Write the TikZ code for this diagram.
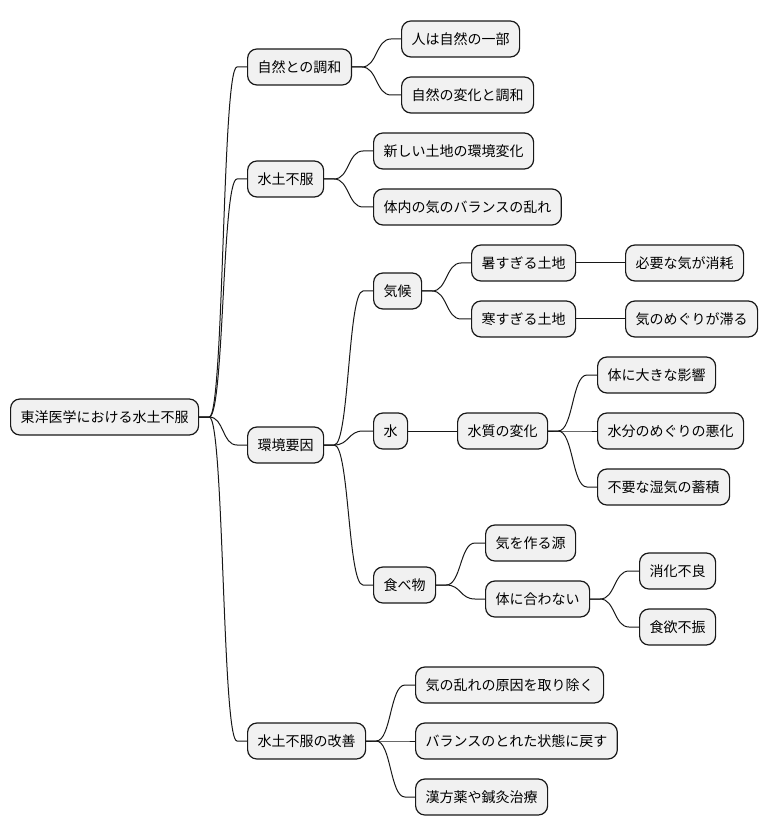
\documentclass[tikz,border=0pt]{standalone}
\usepackage{fontspec}
\setmainfont{Noto Sans CJK JP}
\usetikzlibrary{calc, positioning}
\definecolor{boxfill}{HTML}{F1F1F1}
\definecolor{boxline}{HTML}{181818}

\begin{document}
\begin{tikzpicture}[x=0.75pt, y=-0.75pt, line width=0.75pt, color=boxline,
	topic/.style={draw=boxline, line width=0.9pt, fill=boxfill, rounded corners=7pt,
		inner xsep=7.5pt, inner ysep=0pt, minimum height=27pt, text=black,
		font=\fontsize{10.5pt}{12pt}\selectfont},
	stem/.style={to path={-- ++(10,0) .. controls +(15,0) and +(-15,0) .. ($(\tikztotarget)+(-10,0)$) -- (\tikztotarget)}}]
	\useasboundingbox (0,0) rectangle (768,837);
	\node[topic] (A) at (10,417)[right] {東洋医学における水土不服};
	\node[topic] (B1) at (247,67)[right] {自然との調和};
	\node[topic] (B2) at (247,179)[right] {水土不服};
	\node[topic] (B3) at (247,445)[right] {環境要因};
	\node[topic] (B4) at (247,741)[right] {水土不服の改善};
	\node[topic] (B11) at (401,39)[right] {人は自然の一部};
	\node[topic] (B12) at (401,95)[right] {自然の変化と調和};
	\node[topic] (B21) at (373,151)[right] {新しい土地の環境変化};
	\node[topic] (B22) at (373,207)[right] {体内の気のバランスの乱れ};
	\node[topic] (B31) at (373,291)[right] {気候};
	\node[topic] (B32) at (373,431)[right] {水};
	\node[topic] (B33) at (373,585)[right] {食べ物};
	\node[topic] (B311) at (471,263)[right] {暑すぎる土地};
	\node[topic] (B312) at (471,319)[right] {寒すぎる土地};
	\node[topic] (B3111) at (625,263)[right] {必要な気が消耗};
	\node[topic] (B3121) at (625,319)[right] {気のめぐりが滞る};
	\node[topic] (B321) at (457,431)[right] {水質の変化};
	\node[topic] (B3211) at (597,375)[right] {体に大きな影響};
	\node[topic] (B3212) at (597,431)[right] {水分のめぐりの悪化};
	\node[topic] (B3213) at (597,487)[right] {不要な湿気の蓄積};
	\node[topic] (B331) at (485,543)[right] {気を作る源};
	\node[topic] (B332) at (485,599)[right] {体に合わない};
	\node[topic] (B3321) at (639,571)[right] {消化不良};
	\node[topic] (B3322) at (639,627)[right] {食欲不振};
	\node[topic] (B41) at (415,685)[right] {気の乱れの原因を取り除く};
	\node[topic] (B42) at (415,741)[right] {バランスのとれた状態に戻す};
	\node[topic] (B43) at (415,797)[right] {漢方薬や鍼灸治療};
	\draw (A.east) to[stem] (B1.west);
	\draw (A.east) to[stem] (B2.west);
	\draw (A.east) to[stem] (B3.west);
	\draw (A.east) to[stem] (B4.west);
	\draw (B1.east) to[stem] (B11.west);
	\draw (B1.east) to[stem] (B12.west);
	\draw (B2.east) to[stem] (B21.west);
	\draw (B2.east) to[stem] (B22.west);
	\draw (B3.east) to[stem] (B31.west);
	\draw (B3.east) to[stem] (B32.west);
	\draw (B3.east) to[stem] (B33.west);
	\draw (B31.east) to[stem] (B311.west);
	\draw (B31.east) to[stem] (B312.west);
	\draw (B311.east) -- (B3111.west);
	\draw (B312.east) -- (B3121.west);
	\draw (B32.east) -- (B321.west);
	\draw (B321.east) to[stem] (B3211.west);
	\draw (B321.east) to[stem] (B3212.west);
	\draw (B321.east) to[stem] (B3213.west);
	\draw (B33.east) to[stem] (B331.west);
	\draw (B33.east) to[stem] (B332.west);
	\draw (B332.east) to[stem] (B3321.west);
	\draw (B332.east) to[stem] (B3322.west);
	\draw (B4.east) to[stem] (B41.west);
	\draw (B4.east) to[stem] (B42.west);
	\draw (B4.east) to[stem] (B43.west);
	
	\end{tikzpicture}
\end{document}
